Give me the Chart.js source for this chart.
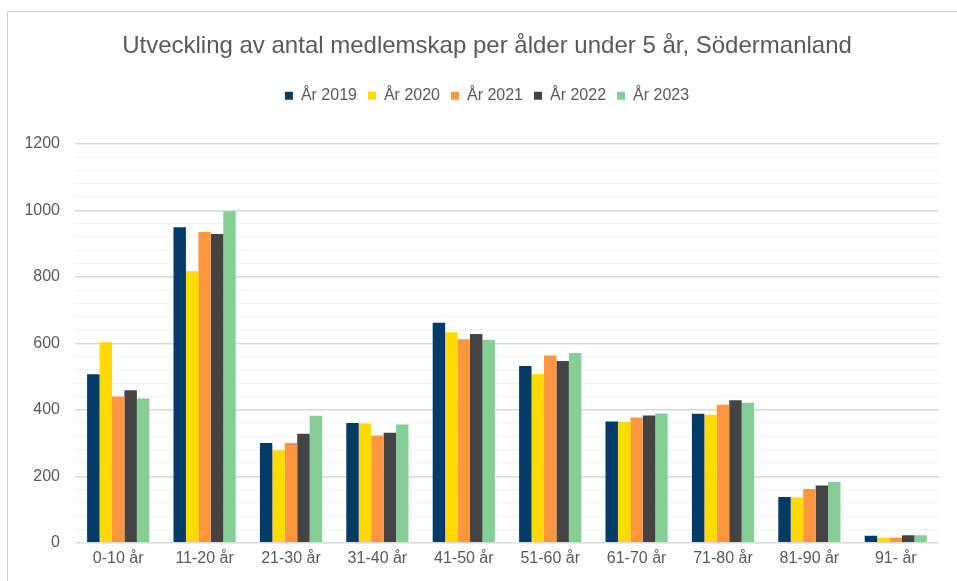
<!DOCTYPE html>
<html>
<head>
<meta charset="utf-8">
<script src="https://cdn.jsdelivr.net/npm/chart.js@4"></script>
<style>
  html, body { margin: 0; padding: 0; width: 957px; height: 581px; overflow: hidden; background: #fff; }
  #frame { position: absolute; left: 7px; top: 11px; width: 2000px; height: 2000px; border: 1px solid #cfcfcf; box-sizing: border-box; }
  #wrap { position: absolute; left: 0; top: 0; width: 974px; height: 581px; }
</style>
</head>
<body>
<div id="frame"></div>
<div id="wrap"><canvas id="c" width="974" height="581"></canvas></div>
<script>
const categories = ['0-10 år', '11-20 år', '21-30 år', '31-40 år', '41-50 år', '51-60 år', '61-70 år', '71-80 år', '81-90 år', '91- år'];
const seriesNames = ['År 2019', 'År 2020', 'År 2021', 'År 2022', 'År 2023'];
const values2019 = [507, 949, 300, 360, 662, 532, 365, 388, 138, 21];
const values2020 = [603, 817, 278, 359, 633, 508, 364, 385, 136, 15];
const values2021 = [440, 935, 300, 323, 612, 563, 377, 415, 162, 15];
const values2022 = [459, 929, 328, 331, 628, 547, 383, 429, 172, 23];
const values2023 = [434, 997, 382, 356, 611, 571, 389, 421, 183, 23];
const colors = ['#023B69', '#FFDA00', '#FF9740', '#444444', '#85CF97'];
const titleText = 'Utveckling av antal medlemskap per ålder under 5 år, Södermanland';

const allValues = [values2019, values2020, values2021, values2022, values2023];
const datasets = seriesNames.map((name, i) => ({
  label: name,
  data: allValues[i],
  backgroundColor: colors[i],
  borderWidth: 0,
  categoryPercentage: 0.72,
  barPercentage: 1.0,
  yAxisID: 'y'
}));

const legendSpacing = {
  id: 'legendSpacing',
  beforeInit(chart) {
    const origFit = chart.legend.fit;
    chart.legend.fit = function () {
      origFit.bind(chart.legend)();
      this.height += 30;
    };
  }
};

Chart.defaults.font.family = '"Liberation Sans", Arial, sans-serif';
Chart.defaults.color = '#595959';

new Chart(document.getElementById('c'), {
  type: 'bar',
  data: { labels: categories, datasets: datasets },
  plugins: [legendSpacing],
  options: {
    responsive: false,
    animation: false,
    layout: { padding: { left: 0, right: 0, top: 0, bottom: 7 } },
    plugins: {
      title: {
        display: true,
        text: titleText,
        color: '#595959',
        font: { size: 24, weight: 'normal' },
        padding: { top: 32, bottom: 16 }
      },
      legend: {
        display: true,
        position: 'top',
        labels: {
          boxWidth: 8,
          boxHeight: 8,
          padding: 11,
          color: '#595959',
          font: { size: 16 }
        }
      },
      tooltip: { enabled: false }
    },
    scales: {
      x: {
        grid: { display: false, drawTicks: false },
        border: { display: false },
        ticks: { color: '#595959', font: { size: 16 }, padding: 6, maxRotation: 0 }
      },
      y: {
        position: 'left',
        min: 0,
        max: 1200,
        afterFit(scale) { scale.width = 75; },
        border: { display: false },
        grid: {
          drawTicks: false,
          color: (ctx) => (ctx.tick && ctx.tick.value % 200 === 0) ? '#d9d9d9' : '#f2f2f2',
          lineWidth: (ctx) => (ctx.tick && ctx.tick.value % 200 === 0) ? 1.5 : 1.2
        },
        ticks: {
          stepSize: 40,
          autoSkip: false,
          padding: 15,
          color: '#595959',
          font: { size: 16 },
          callback: (v) => (v % 200 === 0 ? String(v) : '')
        }
      },
      yPad: {
        type: 'linear',
        position: 'right',
        display: true,
        min: 0,
        max: 1200,
        afterFit(scale) { scale.width = 35; },
        border: { display: false },
        grid: { display: false, drawTicks: false },
        ticks: { display: false }
      }
    }
  }
});
</script>
</body>
</html>
